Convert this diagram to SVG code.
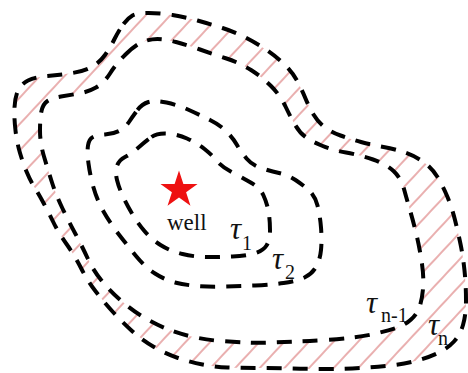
<svg xmlns="http://www.w3.org/2000/svg" width="468" height="373" viewBox="0 0 468 373">
<defs>
<pattern id="hatch" patternUnits="userSpaceOnUse" width="18" height="18" patternTransform="rotate(43)">
<line x1="9" y1="0" x2="9" y2="18" stroke="#d45f5f" stroke-width="1"/>
</pattern>
</defs>
<style>
.contour{fill:none;stroke:#000;stroke-width:4;stroke-dasharray:15 11;stroke-linecap:butt}
.tau{font-family:"Liberation Serif","Times New Roman",serif;font-style:italic;font-size:31px;fill:#111}
.sub{font-family:"Liberation Serif","Times New Roman",serif;font-size:20px;fill:#111}
</style>
<rect width="468" height="373" fill="#fff"/>
<g id="band">
<path fill="url(#hatch)" fill-rule="evenodd" d="M123.5,24 Q128,18 132.5,15.5 Q137,13 148.5,13 Q160,13 172.5,15 Q185,17 197.5,20.5 Q210,24 222.5,28 Q235,32 246.5,38 Q258,44 268,51 Q278,58 285.5,65.5 Q293,73 297.5,81.5 Q302,90 305.5,98.5 Q309,107 313.5,114.5 Q318,122 324.5,127 Q331,132 340.5,135.5 Q350,139 361,142 Q372,145 383.5,147 Q395,149 405,152.5 Q415,156 423.5,162 Q432,168 437.5,177 Q443,186 447.5,197 Q452,208 455,220 Q458,232 460.5,244 Q463,256 464.5,270.5 Q466,285 466,300 Q466,315 463,325 Q460,335 454,341.5 Q448,348 439,352.5 Q430,357 417.5,360.5 Q405,364 390,365.5 Q375,367 360,368 Q345,369 327.5,369 Q310,369 292.5,368.5 Q275,368 257.5,368 Q240,368 227.5,367.5 Q215,367 202.5,364.5 Q190,362 178,358 Q166,354 154,347 Q142,340 132,331 Q122,322 112.5,311.5 Q103,301 95,290.5 Q87,280 81,268 Q75,256 66.5,244 Q58,232 53,221.5 Q48,211 43,202 Q38,193 34,186.5 Q30,180 26.5,171.5 Q23,163 20,153 Q17,143 15.5,130.5 Q14,118 14.5,107.5 Q15,97 18,90.5 Q21,84 28,80.5 Q35,77 47.5,76 Q60,75 72.5,73 Q85,71 92.5,66.5 Q100,62 105,55 Q110,48 114.5,39 Q119,30 123.5,24 Z M125.5,54.5 Q135,45 142.5,42 Q150,39 157.5,39 Q165,39 176,42 Q187,45 200,49.5 Q213,54 226.5,58.5 Q240,63 251,70 Q262,77 271,86 Q280,95 285.5,106.5 Q291,118 295.5,125.5 Q300,133 305.5,137 Q311,141 321.5,145.5 Q332,150 346,152.5 Q360,155 373,159.5 Q386,164 393.5,171 Q401,178 404,189 Q407,200 410.5,212 Q414,224 417,237 Q420,250 422,264 Q424,278 423,289 Q422,300 419.5,307 Q417,314 411,319.5 Q405,325 397.5,327.5 Q390,330 378,333 Q366,336 353,337.5 Q340,339 325,340 Q310,341 297,341.5 Q284,342 271.5,342.5 Q259,343 247,342.5 Q235,342 221,341 Q207,340 193.5,337 Q180,334 168.5,329.5 Q157,325 145,318 Q133,311 121.5,301 Q110,291 101.5,280.5 Q93,270 87.5,258 Q82,246 75.5,234 Q69,222 62.5,208.5 Q56,195 52,182.5 Q48,170 44,156.5 Q40,143 40,130.5 Q40,118 41.5,111 Q43,104 47.5,101 Q52,98 61,96.5 Q70,95 79,93.5 Q88,92 96,87.5 Q104,83 110,73.5 Q116,64 125.5,54.5 Z"/>
</g>
<g id="contours">
<path id="tau-n" class="contour" d="M123.5,24 Q128,18 132.5,15.5 Q137,13 148.5,13 Q160,13 172.5,15 Q185,17 197.5,20.5 Q210,24 222.5,28 Q235,32 246.5,38 Q258,44 268,51 Q278,58 285.5,65.5 Q293,73 297.5,81.5 Q302,90 305.5,98.5 Q309,107 313.5,114.5 Q318,122 324.5,127 Q331,132 340.5,135.5 Q350,139 361,142 Q372,145 383.5,147 Q395,149 405,152.5 Q415,156 423.5,162 Q432,168 437.5,177 Q443,186 447.5,197 Q452,208 455,220 Q458,232 460.5,244 Q463,256 464.5,270.5 Q466,285 466,300 Q466,315 463,325 Q460,335 454,341.5 Q448,348 439,352.5 Q430,357 417.5,360.5 Q405,364 390,365.5 Q375,367 360,368 Q345,369 327.5,369 Q310,369 292.5,368.5 Q275,368 257.5,368 Q240,368 227.5,367.5 Q215,367 202.5,364.5 Q190,362 178,358 Q166,354 154,347 Q142,340 132,331 Q122,322 112.5,311.5 Q103,301 95,290.5 Q87,280 81,268 Q75,256 66.5,244 Q58,232 53,221.5 Q48,211 43,202 Q38,193 34,186.5 Q30,180 26.5,171.5 Q23,163 20,153 Q17,143 15.5,130.5 Q14,118 14.5,107.5 Q15,97 18,90.5 Q21,84 28,80.5 Q35,77 47.5,76 Q60,75 72.5,73 Q85,71 92.5,66.5 Q100,62 105,55 Q110,48 114.5,39 Q119,30 123.5,24 Z"/>
<path id="tau-n-1" class="contour" d="M125.5,54.5 Q135,45 142.5,42 Q150,39 157.5,39 Q165,39 176,42 Q187,45 200,49.5 Q213,54 226.5,58.5 Q240,63 251,70 Q262,77 271,86 Q280,95 285.5,106.5 Q291,118 295.5,125.5 Q300,133 305.5,137 Q311,141 321.5,145.5 Q332,150 346,152.5 Q360,155 373,159.5 Q386,164 393.5,171 Q401,178 404,189 Q407,200 410.5,212 Q414,224 417,237 Q420,250 422,264 Q424,278 423,289 Q422,300 419.5,307 Q417,314 411,319.5 Q405,325 397.5,327.5 Q390,330 378,333 Q366,336 353,337.5 Q340,339 325,340 Q310,341 297,341.5 Q284,342 271.5,342.5 Q259,343 247,342.5 Q235,342 221,341 Q207,340 193.5,337 Q180,334 168.5,329.5 Q157,325 145,318 Q133,311 121.5,301 Q110,291 101.5,280.5 Q93,270 87.5,258 Q82,246 75.5,234 Q69,222 62.5,208.5 Q56,195 52,182.5 Q48,170 44,156.5 Q40,143 40,130.5 Q40,118 41.5,111 Q43,104 47.5,101 Q52,98 61,96.5 Q70,95 79,93.5 Q88,92 96,87.5 Q104,83 110,73.5 Q116,64 125.5,54.5 Z"/>
<path id="tau-2" class="contour" d="M137.5,110 Q142,104 148.5,102 Q155,100 166.5,102.5 Q178,105 189,110 Q200,115 210,120 Q220,125 226.5,131.5 Q233,138 237,145 Q241,152 246.5,158.5 Q252,165 261,168 Q270,171 279,173 Q288,175 295.5,180 Q303,185 309,190.5 Q315,196 317.5,205.5 Q320,215 321,227.5 Q322,240 321,250 Q320,260 316,267 Q312,274 304.5,277.5 Q297,281 283.5,283 Q270,285 255,285.5 Q240,286 225,286.5 Q210,287 197.5,286 Q185,285 175,282.5 Q165,280 155,273.5 Q145,267 136,256 Q127,245 118.5,234 Q110,223 103.5,211.5 Q97,200 93.5,187.5 Q90,175 88.5,163.5 Q87,152 88,145.5 Q89,139 93,137 Q97,135 105,134.5 Q113,134 119,131 Q125,128 129,122 Q133,116 137.5,110 Z"/>
<path id="tau-1" class="contour" d="M151.5,137 Q157,133 167,133.5 Q177,134 187,138.5 Q197,143 204.5,149 Q212,155 217,161 Q222,167 232.5,172.5 Q243,178 251.5,183 Q260,188 263.5,195.5 Q267,203 268.5,211.5 Q270,220 270,230 Q270,240 266.5,245.5 Q263,251 254,253.5 Q245,256 232.5,256.5 Q220,257 207.5,257 Q195,257 182.5,254 Q170,251 160.5,245 Q151,239 144,230.5 Q137,222 132,213.5 Q127,205 123,196.5 Q119,188 117,180 Q115,172 117,166 Q119,160 125,157 Q131,154 138.5,147.5 Q146,141 151.5,137 Z"/>
</g>
<g id="well">
<polygon points="179,170.5 183.38,183.97 197.55,183.97 186.09,192.3 190.46,205.78 179,197.45 167.54,205.78 171.91,192.3 160.45,183.97 174.62,183.97" fill="#ee1111"/>
<text x="167" y="230" font-family="Liberation Serif, Times New Roman, serif" font-size="23" fill="#111">well</text>
</g>
<g id="labels">
<text class="tau" x="230" y="239">τ</text><text class="sub" x="242" y="250">1</text>
<text class="tau" x="272" y="269">τ</text><text class="sub" x="285" y="279">2</text>
<text class="tau" x="366" y="313">τ</text><text class="sub" x="381" y="322">n-1</text>
<text class="tau" x="428" y="335">τ</text><text class="sub" x="438" y="345">n</text>
</g>
</svg>
